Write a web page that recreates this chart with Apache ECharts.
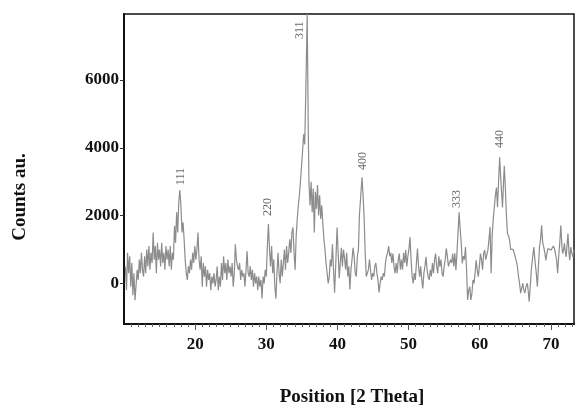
<!DOCTYPE html>
<html>
<head>
<meta charset="utf-8">
<script src="https://cdn.jsdelivr.net/npm/echarts@6/dist/echarts.min.js"></script>
<style>html,body{margin:0;padding:0;background:#fff;}#c{width:576px;height:408px;}</style>
</head>
<body>
<div id="c"></div>
<script>
const theta = [10.2,10.35,10.5,10.65,10.8,10.95,11.1,11.25,11.4,11.55,11.7,11.85,12.0,12.15,12.3,12.45,12.6,12.75,12.9,13.05,13.2,13.35,13.5,13.65,13.8,13.95,14.1,14.25,14.4,14.55,14.7,14.85,15.0,15.15,15.3,15.45,15.6,15.75,15.9,16.05,16.2,16.35,16.5,16.65,16.8,16.95,17.1,17.25,17.4,17.55,17.7,17.85,18.0,18.15,18.3,18.45,18.6,18.75,18.9,19.05,19.2,19.35,19.5,19.65,19.8,19.95,20.1,20.25,20.4,20.55,20.7,20.85,21.0,21.15,21.3,21.45,21.6,21.75,21.9,22.05,22.2,22.35,22.5,22.65,22.8,22.95,23.1,23.25,23.4,23.55,23.7,23.85,24.0,24.15,24.3,24.45,24.6,24.75,24.9,25.05,25.2,25.35,25.5,25.65,25.8,25.95,26.1,26.25,26.4,26.55,26.7,26.85,27.0,27.15,27.3,27.45,27.6,27.75,27.9,28.05,28.2,28.35,28.5,28.65,28.8,28.95,29.1,29.25,29.4,29.55,29.7,29.85,30.0,30.15,30.3,30.45,30.6,30.75,30.9,31.05,31.2,31.35,31.5,31.65,31.8,31.95,32.1,32.25,32.4,32.55,32.7,32.85,33.0,33.15,33.3,33.45,33.6,33.75,33.9,34.05,34.2,34.35,34.5,34.65,34.8,34.95,35.1,35.25,35.4,35.55,35.75,35.9,36.0,36.15,36.3,36.45,36.6,36.75,36.9,37.05,37.2,37.35,37.5,37.65,37.8,37.95,38.1,38.25,38.4,38.55,38.7,38.85,39.0,39.15,39.3,39.45,39.6,39.75,39.95,40.1,40.25,40.4,40.55,40.7,40.85,41.0,41.15,41.3,41.45,41.6,41.75,41.9,42.05,42.2,42.35,42.5,42.65,42.8,42.95,43.1,43.25,43.45,43.6,43.75,43.9,44.05,44.2,44.35,44.5,44.65,44.8,44.95,45.1,45.25,45.4,45.55,45.7,45.85,46.0,46.15,46.3,46.45,46.6,46.75,46.9,47.05,47.2,47.35,47.5,47.65,47.8,47.95,48.1,48.25,48.4,48.55,48.7,48.85,49.0,49.15,49.3,49.45,49.6,49.75,49.9,50.05,50.2,50.35,50.5,50.65,50.8,50.95,51.1,51.25,51.4,51.55,51.7,51.85,52.0,52.15,52.3,52.45,52.6,52.75,52.9,53.05,53.2,53.35,53.5,53.65,53.8,53.95,54.1,54.25,54.4,54.55,54.7,54.85,55.0,55.15,55.3,55.45,55.6,55.75,55.9,56.05,56.2,56.35,56.5,56.65,56.8,56.95,57.1,57.25,57.4,57.55,57.7,57.85,58.0,58.15,58.3,58.45,58.6,58.75,58.9,59.05,59.2,59.35,59.5,59.65,59.8,59.95,60.1,60.25,60.4,60.55,60.7,60.85,61.0,61.15,61.3,61.45,61.6,61.75,61.9,62.05,62.2,62.35,62.5,62.65,62.8,62.95,63.1,63.2,63.35,63.45,63.6,63.75,63.9,64.05,64.2,64.35,64.5,64.7,64.9,65.1,65.3,65.45,65.6,65.75,65.9,66.05,66.2,66.35,66.5,66.7,66.85,66.95,67.1,67.25,67.4,67.6,67.8,67.95,68.1,68.25,68.4,68.55,68.7,68.85,69.0,69.15,69.3,69.45,69.6,69.8,70.0,70.2,70.35,70.5,70.65,70.8,70.95,71.1,71.25,71.4,71.55,71.65,71.8,71.9,72.05,72.15,72.3,72.4,72.55,72.65,72.8,72.95,73.1,73.25];
const counts = [500,-200,900,300,800,-100,600,-350,300,-500,-450,400,100,700,300,900,400,200,800,300,1000,500,1100,400,900,600,1500,700,1100,300,1200,700,1000,500,1200,600,900,400,1100,700,1000,500,1100,400,900,700,1700,1200,2100,1500,2400,2750,2300,1500,1800,1300,700,300,100,500,300,700,400,900,600,1100,700,1000,1500,700,400,800,-100,600,200,500,-100,400,100,300,-200,200,0,300,-100,100,500,-200,200,-100,600,100,800,300,600,100,700,300,500,200,600,-100,300,1150,700,500,400,600,100,400,200,300,-100,400,950,300,200,500,100,400,-100,300,0,200,-200,200,-100,100,-450,200,0,400,200,1100,1750,1000,500,1100,300,700,-100,-450,300,900,300,0,700,200,600,1000,400,1100,600,900,1300,900,1500,1650,900,400,1400,1900,2300,2600,3000,3450,3900,4400,4100,5600,7950,4500,2950,2300,3000,2100,2800,1500,2700,2200,2900,2000,2600,1900,2300,1750,1300,1000,600,300,0,200,700,500,1150,400,-280,500,1650,900,150,600,1050,500,1000,750,400,900,200,500,-180,400,700,1050,800,300,200,800,1000,2050,2500,3130,2600,1950,900,200,160,400,700,400,100,300,200,500,600,300,100,-270,0,200,100,300,200,600,800,900,1100,800,900,600,880,500,300,600,300,700,880,400,700,400,900,600,980,500,800,1000,1370,700,200,0,300,100,600,1030,500,200,500,100,-150,300,500,780,400,200,100,400,200,600,300,700,880,500,300,800,490,700,300,200,500,700,1030,800,500,490,700,600,880,500,890,390,900,1500,2100,1600,1180,590,800,700,1070,400,-490,-200,-100,-490,-300,100,0,300,680,400,200,500,880,700,400,900,980,700,680,980,1300,1660,300,1400,1900,2250,2600,2830,2250,3000,3720,3120,2600,2240,3000,3470,2830,2000,1470,1400,1270,1000,980,1000,980,700,490,200,0,-290,-250,0,-200,-290,-100,0,-300,-540,-100,400,700,1070,590,300,-100,500,1070,1300,1710,1200,1070,900,680,900,1030,1000,980,1000,1100,1030,1000,700,300,800,1200,1710,1100,880,1000,1180,900,780,1200,1470,900,680,1070,900,780,1000];
const peakNames = ['111','220','311','400','333','440'];
const peakTheta = [18.05,30.25,34.75,43.55,56.75,62.8];
const peakLabelCounts = [3150,2250,7470,3610,2490,4260];
const xTickLabels = [20,30,40,50,60,70];
const xMinorTicks = [11,12,13,14,15,16,17,18,19,21,22,23,24,25,26,27,28,29,31,32,33,34,35,36,37,38,39,41,42,43,44,45,46,47,48,49,51,52,53,54,55,56,57,58,59,61,62,63,64,65,66,67,68,69,71,72,73];
const yTickLabels = [0,2000,4000,6000];

const lineData = theta.map((t, i) => [t, counts[i]]);
const labelData = peakTheta.map((t, i) => ({value: [t, peakLabelCounts[i]], name: peakNames[i]}));

const serif = '"Liberation Serif", "Times New Roman", serif';
const plain = v => String(v);
const chart = echarts.init(document.getElementById('c'), null, {renderer: 'canvas'});
chart.setOption({
  animation: false,
  backgroundColor: '#ffffff',
  grid: {left: 124, right: 2, top: 14, bottom: 84, show: true, borderColor: '#111', borderWidth: 1.5, backgroundColor: 'transparent'},
  xAxis: [{
    type: 'value', min: 10, max: 73.25,
    axisLine: {show: true, onZero: false, lineStyle: {color: '#111', width: 2}},
    axisTick: {show: true, inside: false, length: 6, customValues: xTickLabels, lineStyle: {color: '#555', width: 1}},
    axisLabel: {show: true, customValues: xTickLabels, formatter: plain, margin: 12, color: '#111', fontFamily: serif, fontWeight: 'bold', fontSize: 17},
    splitLine: {show: false}
  }, {
    type: 'value', min: 10, max: 73.25, position: 'bottom',
    axisLine: {show: false, onZero: false},
    axisTick: {show: true, inside: false, length: 3, customValues: xMinorTicks, lineStyle: {color: '#666', width: 1}},
    axisLabel: {show: false},
    splitLine: {show: false}
  }],
  yAxis: {
    type: 'value', min: -1200, max: 7950,
    axisLine: {show: true, onZero: false, lineStyle: {color: '#111', width: 2}},
    axisTick: {show: true, inside: false, length: 4, customValues: yTickLabels, lineStyle: {color: '#333', width: 1}},
    axisLabel: {show: true, customValues: yTickLabels, formatter: plain, margin: 5, color: '#111', fontFamily: serif, fontWeight: 'bold', fontSize: 17},
    splitLine: {show: false}
  },
  series: [{
    type: 'line', data: lineData, showSymbol: false, symbol: 'none', clip: true,
    lineStyle: {color: '#8c8c8c', width: 1.2}, z: 2
  }, {
    type: 'scatter', data: labelData, symbolSize: 0, silent: true, z: 3,
    label: {show: true, formatter: '{b}', position: 'inside', rotate: 90, color: '#444', fontFamily: serif, fontSize: 12, align: 'center', verticalAlign: 'middle'}
  }],
  graphic: [{
    type: 'text', x: 352, y: 397,
    style: {text: 'Position [2 Theta]', font: 'bold 19px ' + serif, fill: '#111', textAlign: 'center', textVerticalAlign: 'middle'}
  }, {
    type: 'text', x: 20, y: 197, rotation: Math.PI / 2,
    style: {text: 'Counts au.', font: 'bold 19px ' + serif, fill: '#111', textAlign: 'center', textVerticalAlign: 'middle'}
  }]
});
</script>
</body>
</html>
